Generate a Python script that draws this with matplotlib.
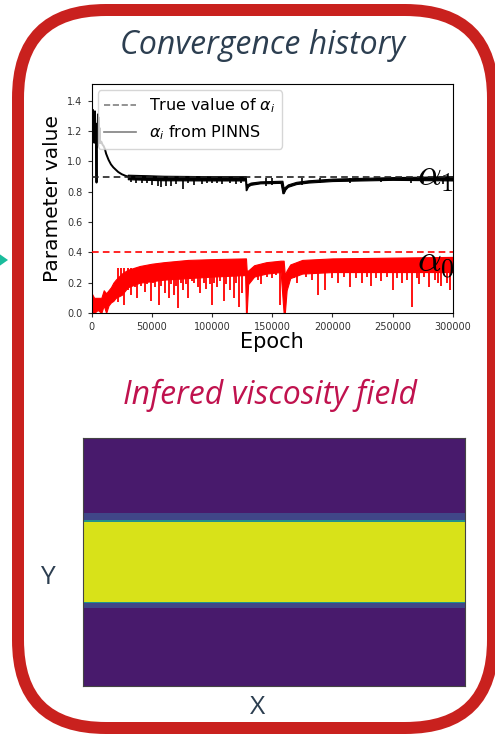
import matplotlib
matplotlib.use("Agg")
import matplotlib.pyplot as plt
import numpy as np
from matplotlib.patches import FancyBboxPatch, Polygon
from matplotlib.lines import Line2D

# ---------------- data ----------------
epoch_max = 300000
true_alpha1 = 0.9
true_alpha0 = 0.4

# alpha_1 early transient (epoch, value)
a1_early_epoch = [0, 300, 600, 900, 1200, 1500, 1800, 2100, 2400, 2700, 3000, 3300,
                  3600, 4000, 4400, 4800, 5200, 5500, 5800, 6200, 6600, 7000, 8000,
                  9000, 10000, 11000, 12000, 14000, 16000, 18000, 20000, 22000,
                  25000, 28000, 30000]
a1_early_value = [1.20, 1.32, 1.12, 1.34, 1.18, 1.30, 1.13, 1.28, 1.15, 1.33, 1.12,
                  1.25, 1.15, 0.86, 1.22, 1.10, 1.31, 1.12, 1.29, 1.15, 1.22, 1.12,
                  1.13, 1.11, 1.10, 1.08, 1.05, 1.01, 0.98, 0.96, 0.945, 0.93,
                  0.915, 0.905, 0.90]

# alpha_1 noisy band after transient
a1_band_epoch = [30000, 60000, 100000, 127500, 128000, 128500, 130000, 132000, 140000,
                 157000, 158500, 159500, 161000, 163000, 170000, 180000, 200000,
                 250000, 300000]
a1_band_upper = [0.912, 0.905, 0.902, 0.902, 0.902, 0.850, 0.852, 0.860, 0.868,
                 0.872, 0.872, 0.825, 0.835, 0.848, 0.865, 0.875, 0.886,
                 0.896, 0.902]
a1_band_lower = [0.882, 0.875, 0.874, 0.874, 0.810, 0.810, 0.835, 0.845, 0.855,
                 0.858, 0.790, 0.790, 0.815, 0.832, 0.850, 0.860, 0.870,
                 0.878, 0.874]
a1_spike_epoch = [33000, 37000, 42000, 46000, 50000, 55000, 58000, 62000, 66000, 70000,
                  76000, 80000, 85000, 92000, 96000, 100000, 104000, 108000, 115000,
                  120000, 124000, 145000, 150000, 175000, 190000, 215000, 240000,
                  265000, 275000, 285000, 292000]
a1_spike_min = [0.865, 0.86, 0.855, 0.86, 0.845, 0.84, 0.83, 0.84, 0.835, 0.85,
                0.82, 0.855, 0.845, 0.85, 0.86, 0.855, 0.86, 0.85, 0.86,
                0.85, 0.86, 0.84, 0.845, 0.845, 0.855, 0.86, 0.865,
                0.855, 0.86, 0.86, 0.85]

# alpha_0 noisy band
a0_band_epoch = [0, 2000, 5000, 8000, 10000, 12000, 14000, 16000, 18000, 20000, 25000,
                 30000, 40000, 50000, 60000, 80000, 100000, 127500, 128200, 128800,
                 130000, 135000, 145000, 157000, 159500, 160500, 162000, 165000,
                 175000, 200000, 250000, 300000]
a0_band_upper = [0.13, 0.10, 0.10, 0.10, 0.15, 0.13, 0.15, 0.17, 0.20, 0.22, 0.26,
                 0.285, 0.31, 0.325, 0.335, 0.35, 0.355, 0.36, 0.36, 0.28,
                 0.28, 0.315, 0.335, 0.345, 0.345, 0.25, 0.28, 0.32,
                 0.35, 0.36, 0.365, 0.37]
a0_band_lower = [0.0, 0.0, 0.02, 0.0, 0.05, 0.0, 0.05, 0.07, 0.08, 0.10, 0.12,
                 0.17, 0.20, 0.21, 0.22, 0.23, 0.24, 0.25, 0.0, 0.0,
                 0.19, 0.24, 0.26, 0.27, 0.0, 0.0, 0.15, 0.23,
                 0.26, 0.27, 0.27, 0.27]
a0_spike_epoch = [22000, 24000, 27000, 30000, 33000, 36000, 38000, 41000, 44000, 46000,
                  49000, 51000, 53000, 56000, 58000, 61000, 64000, 66000, 68000, 70000,
                  72000, 74000, 76000, 78000, 80000, 83000, 85000, 88000, 90000, 93000,
                  95000, 98000, 100000, 102000, 104000, 107000, 110000, 112000, 115000,
                  118000, 120000, 122000, 125000, 138000, 141000, 146000, 150000,
                  153000, 156500, 168000, 171000, 178000, 183000, 188000, 194000,
                  200000, 205000, 210000, 215000, 220000, 225000, 229000, 232000,
                  236000, 240000, 245000, 250000, 254000, 258000, 262000, 266000,
                  270000, 272000, 276000, 280000, 285000, 288000, 290000, 295000, 298000]
a0_spike_min = [0.07, 0.12, 0.05, 0.15, 0.12, 0.17, 0.10, 0.18, 0.14, 0.19,
                0.08, 0.20, 0.17, 0.05, 0.18, 0.13, 0.10, 0.19, 0.12, 0.18,
                0.03, 0.2, 0.15, 0.19, 0.10, 0.21, 0.20, 0.17, 0.13, 0.2,
                0.16, 0.19, 0.05, 0.2, 0.17, 0.21, 0.08, 0.19, 0.15,
                0.10, 0.2, 0.04, 0.13, 0.22, 0.19, 0.24, 0.23,
                0.25, 0.05, 0.23, 0.20, 0.24, 0.22, 0.12, 0.15,
                0.23, 0.20, 0.24, 0.17, 0.23, 0.20, 0.24, 0.18,
                0.23, 0.21, 0.24, 0.15, 0.23, 0.20, 0.22, 0.04,
                0.23, 0.19, 0.24, 0.17, 0.22, 0.2, 0.18, 0.20, 0.15]

x_ticks = [0, 50000, 100000, 150000, 200000, 250000, 300000]
y_ticks = [0.0, 0.2, 0.4, 0.6, 0.8, 1.0, 1.2, 1.4]

# viscosity field: vertical profile (y edges from bottom to top, value per layer)
visc_y_edges = [0.0, 0.313, 0.333, 0.338, 0.662, 0.667, 0.696, 1.0]
visc_values = [0.07, 0.21, 0.50, 0.94, 0.50, 0.21, 0.07]
visc_x_edges = [0.0, 1.0]

# ---------------- figure ----------------
W, H = 495, 734
fig = plt.figure(figsize=(W / 100, H / 100), dpi=100)

# overlay in pixel coords
bg = fig.add_axes([0, 0, 1, 1])
bg.set_xlim(0, W)
bg.set_ylim(H, 0)
bg.axis('off')
border = FancyBboxPatch((18, 10), 493 - 18, 728 - 10,
                        boxstyle="round,pad=0,rounding_size=88",
                        fill=False, edgecolor='#c9211e', linewidth=12 * 0.72)
bg.add_patch(border)
bg.add_patch(Polygon([(-2, 253), (8, 260), (-2, 267)], closed=True,
                     color='#1abc9c', lw=0))
bg.text(262, 45, "Convergence history", ha='center', va='center',
        fontsize=23, style='italic', color='#2c3e50', family='Open Sans')
bg.text(270, 395, "Infered viscosity field", ha='center', va='center',
        fontsize=23, style='italic', color='#c0124e', family='Open Sans')
bg.text(47, 578, "Y", ha='center', va='center', fontsize=19,
        color='#2c3e50', family='Open Sans')
bg.text(258, 707, "X", ha='center', va='center', fontsize=19,
        color='#2c3e50', family='Open Sans')

# ---------------- convergence plot ----------------
ax = fig.add_axes([91.7 / W, 1 - 313 / H, 361 / W, 229 / H])
ax.axhline(true_alpha1, color='#222222', ls='--', lw=1.2, dashes=(4, 2.5), zorder=3)
ax.axhline(true_alpha0, color='red', ls='--', lw=1.2, dashes=(4, 2.5), zorder=3)

ax.plot(a1_early_epoch, a1_early_value, color='black', lw=1.4, zorder=2)
ax.fill_between(a1_band_epoch, a1_band_lower, a1_band_upper, color='black', lw=0.8,
                edgecolor='black', zorder=2)
ax.vlines(a1_spike_epoch, a1_spike_min, [true_alpha1 - 0.01] * len(a1_spike_epoch),
          color='black', lw=1.2, zorder=2)

ax.fill_between(a0_band_epoch, a0_band_lower, a0_band_upper, color='red', lw=0.8,
                edgecolor='red', zorder=2)
ax.vlines(a0_spike_epoch, a0_spike_min, [0.3] * len(a0_spike_epoch),
          color='red', lw=1.3, zorder=2)

ax.set_xlim(0, epoch_max)
ax.set_ylim(0, 1.51)
ax.set_xticks(x_ticks)
ax.set_xticklabels([str(t) for t in x_ticks])
ax.set_yticks(y_ticks)
ax.set_yticklabels([f"{t:.1f}" for t in y_ticks])
ax.tick_params(labelsize=7, colors='#333333', length=3)
ax.set_xlabel("Epoch", fontsize=15, labelpad=0)
ax.set_ylabel("Parameter value", fontsize=14.5, labelpad=4)

handles = [Line2D([], [], color='0.5', ls='--', lw=1.2),
           Line2D([], [], color='0.5', ls='-', lw=1.2)]
ax.legend(handles, [r"True value of $\alpha_i$", r"$\alpha_i$ from PINNS"],
          loc='upper left', framealpha=0.8, borderaxespad=0.4,
          prop={'family': 'DejaVu Sans', 'size': 11.5,
                'math_fontfamily': 'dejavusans'})
ax.text(0.9, 0.555, r"$\alpha_1$", transform=ax.transAxes, fontsize=27,
        va='baseline', ha='left', clip_on=False, zorder=5, math_fontfamily='cm')
ax.text(0.9, 0.18, r"$\alpha_0$", transform=ax.transAxes, fontsize=27,
        va='baseline', ha='left', clip_on=False, zorder=5, math_fontfamily='cm')

# ---------------- viscosity field ----------------
ax2 = fig.add_axes([82.7 / W, 1 - 685.7 / H, 382.3 / W, 248 / H])
field = np.array(visc_values).reshape(-1, 1)
ax2.pcolormesh(visc_x_edges, visc_y_edges, field, cmap='viridis', vmin=0, vmax=1)
ax2.set_xlim(0, 1)
ax2.set_ylim(0, 1)
ax2.set_xticks([])
ax2.set_yticks([])
for s in ax2.spines.values():
    s.set_linewidth(0.8)
    s.set_color('#444444')

fig.savefig("out.png", dpi=100)
